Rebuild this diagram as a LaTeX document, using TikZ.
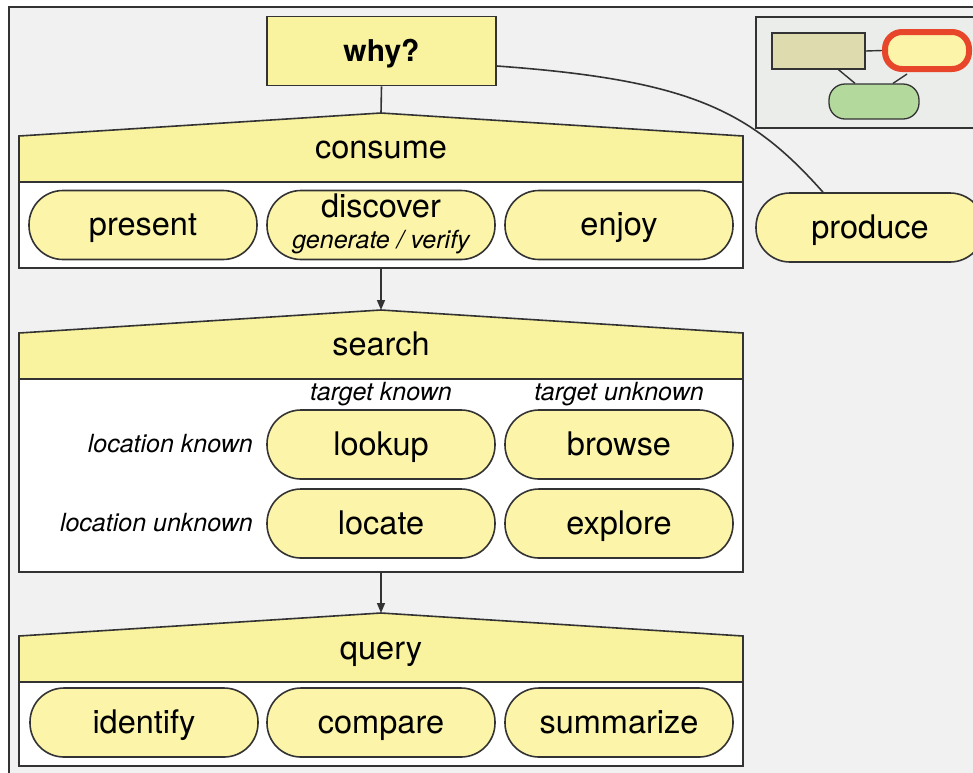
\documentclass[tikz,border=0pt]{standalone}
\usepackage{fontspec}
\setmainfont{TeX Gyre Heros}
\usetikzlibrary{arrows.meta,calc}
\definecolor{bg}{HTML}{F1F1F1}
\definecolor{thumbbg}{HTML}{EBEDEB}
\definecolor{hdr}{HTML}{F9F29F}
\definecolor{pillfill}{HTML}{FBF4A9}
\definecolor{edge}{HTML}{333333}
\definecolor{tanfill}{HTML}{DEDCAE}
\definecolor{mint}{HTML}{B3D99D}
\definecolor{alert}{HTML}{E8462A}

\tikzset{
  pill/.style={draw=edge, line width=1.6pt, fill=pillfill, rounded corners=34pt,
    minimum width=228pt, minimum height=69pt, inner sep=0pt,
    text height=23pt, text depth=2pt, font=\fontsize{32.5}{36}\selectfont},
  hdrtext/.style={font=\fontsize{32.5}{36}\selectfont, inner sep=0pt, anchor=base},
  subtext/.style={font=\itshape\fontsize{25}{28}\selectfont, inner sep=0pt, anchor=base},
  wire/.style={draw=edge, line width=1.6pt},
  grp/.style={draw=edge, line width=1.6pt},
  tip/.style={-{Triangle[length=10pt,width=8pt]}},
}

\begin{document}
\begin{tikzpicture}[x=1pt,y=-1pt]
\useasboundingbox (0,0) rectangle (973,772);
\clip (0,0) rectangle (973,772);
\fill[white] (0,0) rectangle (973,772);
\draw[fill=bg, draw=edge, line width=1.5pt] (9,7) rectangle (990,790);

% overview thumbnail
\draw[fill=thumbbg, draw=edge, line width=1.5pt] (756,17) rectangle (990,128);
\node[draw=edge, fill=tanfill, line width=1.3pt, minimum width=93pt, minimum height=36pt, inner sep=0pt] (tbox) at (818.5,51) {};
\node[draw=alert, line width=6pt, fill=pillfill, rounded corners=17pt, minimum width=84pt, minimum height=37pt, inner sep=0pt] (tpill) at (927,50.5) {};
\node[draw=edge, fill=mint, line width=1.3pt, rounded corners=16pt, minimum width=90pt, minimum height=35pt, inner sep=0pt] (tgreen) at (874,101.5) {};
\draw[wire, line width=1.4pt] (tbox.east) -- (tpill.west);
\draw[wire, line width=1.4pt] ($(tbox.south)+(20,0)$) -- ($(tgreen.north)+(-19,0)$);
\draw[wire, line width=1.4pt] ($(tpill.south)+(-20,2)$) -- ($(tgreen.north)+(19,0)$);

% root
\node[draw=edge, fill=hdr, line width=1.6pt, minimum width=229pt, minimum height=69pt, inner sep=0pt,
  font=\bfseries\fontsize{30}{34}\selectfont, text height=22pt, text depth=2pt] (why) at (381.5,51) {why?};

% consume group
\draw[grp, fill=white] (19,182) rectangle (743,268);
\draw[grp, fill=hdr] (19,182) -- (19,136) -- (381,113) -- (743,136) -- (743,182) -- cycle;
\coordinate (cpeak) at (381,113);
\coordinate (cbot) at (381,268);
\node[hdrtext] (consume) at (381,158) {consume};
\node[pill] (present) at (143,225) {present};
\node[pill] (discover) at (381,225) {};
\node[hdrtext] (discoverlbl) at (381,217) {discover};
\node[subtext] (genver) at (381,248) {generate / verify};
\node[pill] (enjoy) at (619,225) {enjoy};

\node[pill] (produce) at (870,227.5) {produce};

% search group
\draw[grp, fill=white] (19,379) rectangle (743,572);
\draw[grp, fill=hdr] (19,379) -- (19,333) -- (381,310) -- (743,333) -- (743,379) -- cycle;
\coordinate (speak) at (381,310);
\coordinate (sbot) at (381,572);
\node[hdrtext] (search) at (381,355) {search};
\node[subtext] (tknown) at (381,400) {target known};
\node[subtext] (tunknown) at (619,400) {target unknown};
\node[subtext, anchor=base east] (lknown) at (253,452) {location known};
\node[subtext, anchor=base east] (lunknown) at (253,531) {location unknown};
\node[pill] (lookup) at (381,444.5) {lookup};
\node[pill] (browse) at (619,444.5) {browse};
\node[pill] (locate) at (381,523.5) {locate};
\node[pill] (explore) at (619,523.5) {explore};

% query group
\draw[grp, fill=white] (19,682) rectangle (743,766);
\draw[grp, fill=hdr] (19,682) -- (19,636) -- (381,613) -- (743,636) -- (743,682) -- cycle;
\coordinate (qpeak) at (381,613);
\node[hdrtext] (query) at (381,659) {query};
\node[pill] (identify) at (144,722.5) {identify};
\node[pill] (compare) at (381,722.5) {compare};
\node[pill] (summarize) at (619,722.5) {summarize};

% connectors
\draw[wire] (why.south) -- (cpeak);
\draw[wire, tip] (cbot) -- (speak);
\draw[wire, tip] (sbot) -- (qpeak);
\draw[wire] ($(why.east)+(0,15)$) .. controls (690,80) and (750,110) .. ($(produce.north)+(-47,0)$);
\end{tikzpicture}
\end{document}
